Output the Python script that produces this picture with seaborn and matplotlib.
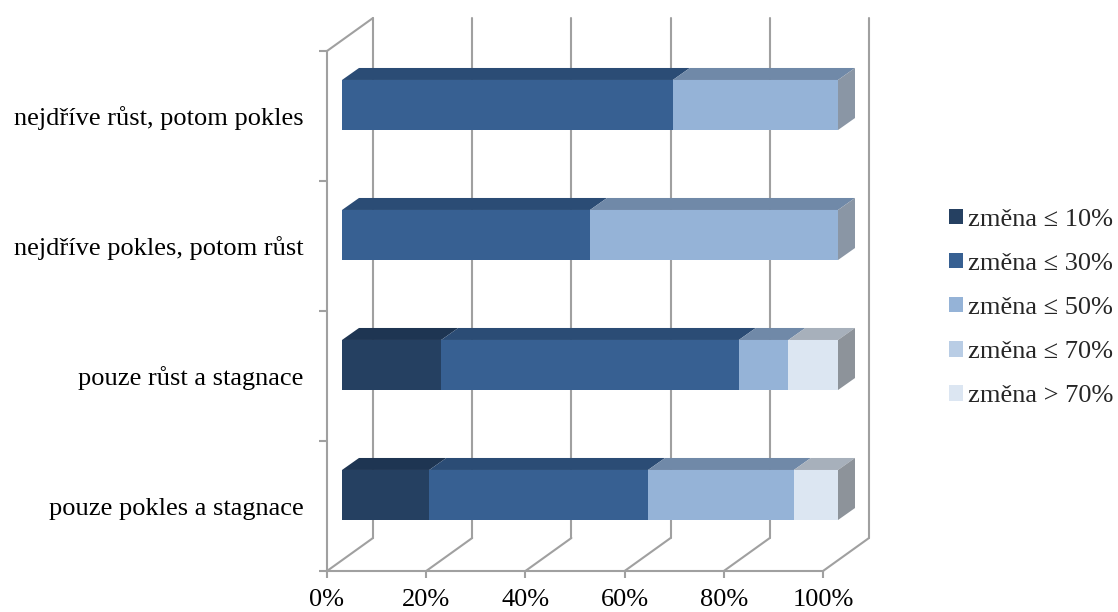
import numpy as np
import pandas as pd
import matplotlib
matplotlib.use("Agg")
import matplotlib.pyplot as plt
import matplotlib.transforms as mtransforms
from matplotlib.patches import Polygon, Patch
from matplotlib.lines import Line2D
import seaborn as sns

# ---- data -------------------------------------------------------------
categories = [
    "nejdříve růst, potom pokles",
    "nejdříve pokles, potom růst",
    "pouze růst a stagnace",
    "pouze pokles a stagnace",
]
series = ["změna ≤ 10%", "změna ≤ 30%", "změna ≤ 50%", "změna ≤ 70%", "změna > 70%"]
share_le10 = [0.0, 0.0, 20.0, 17.6]
share_le30 = [66.7, 50.0, 60.0, 44.1]
share_le50 = [33.3, 50.0, 10.0, 29.4]
share_le70 = [0.0, 0.0, 0.0, 0.0]
share_gt70 = [0.0, 0.0, 10.0, 8.9]
x_ticks = [0, 20, 40, 60, 80, 100]
x_tick_labels = ["0%", "20%", "40%", "60%", "80%", "100%"]

# ---- styling ----------------------------------------------------------
front_colors = ["#254061", "#376092", "#95B3D7", "#B9CDE5", "#DCE6F2"]
top_colors = ["#1E3552", "#2B4C75", "#7089A8", "#8E9CAE", "#A7B0BB"]
side_colors = ["#1A2C44", "#25405F", "#8A96A5", "#8F98A3", "#8D939A"]
grid_color = "#A0A0A0"
grid_lw = 1.5
font_size = 19

W, H = 1118, 612
sns.set_theme(style="white")
plt.rcParams["font.family"] = ["Liberation Serif", "DejaVu Serif"]

fig = plt.figure(figsize=(W / 100, H / 100), dpi=100)
# front plane of the 3-D box
left_px, right_px, top_px, bottom_px = 327, 823, 51, 571
ax = fig.add_axes([left_px / W, 1 - bottom_px / H,
                   (right_px - left_px) / W, (bottom_px - top_px) / H])

n_cat = len(categories)
px_per_x = (right_px - left_px) / 100.0
px_per_cat = (bottom_px - top_px) / n_cat


def shift(x, y, dx_px, dy_px):
    """Move a data point by a screen offset (px right, px up)."""
    return x + dx_px / px_per_x, y - dy_px / px_per_cat


back = (46, 33)        # depth of the whole box
bar_front = (15, 11)   # depth at which the bar front faces sit
bar_depth = (17, 12)   # thickness of each bar
bar_width = 0.385

# ---- stacked bars through seaborn (cumulative totals, drawn back to front)
values = np.array([share_le10, share_le30, share_le50, share_le70, share_gt70])
cum = np.cumsum(values, axis=0)
starts = cum - values

offset = mtransforms.ScaledTranslation(bar_front[0] / 100, bar_front[1] / 100,
                                       fig.dpi_scale_trans)
for k in range(len(series) - 1, -1, -1):
    df = pd.DataFrame({"kategorie": categories, "podil": cum[k]})
    sns.barplot(data=df, x="podil", y="kategorie", orient="y", order=categories,
                color=front_colors[k], saturation=1, width=bar_width,
                linewidth=0, ax=ax, zorder=5)
for p in ax.patches:
    p.set_transform(ax.transData + offset)
    p.set_clip_on(False)

# ---- 3-D faces of the bars ------------------------------------------------
for i in range(n_cat):
    y_top = i - bar_width / 2
    for k in range(len(series)):
        if values[k, i] <= 0:
            continue
        x0, x1 = starts[k, i], cum[k, i]
        p0 = shift(x0, y_top, *bar_front)
        p1 = shift(x1, y_top, *bar_front)
        p2 = shift(*p1, *bar_depth)
        p3 = shift(*p0, *bar_depth)
        ax.add_patch(Polygon([p0, p1, p2, p3], closed=True, facecolor=top_colors[k],
                             edgecolor="none", zorder=4, clip_on=False))
    # right side face of the last visible segment
    last = max(k for k in range(len(series)) if values[k, i] > 0)
    xe = cum[last, i]
    q0 = shift(xe, y_top, *bar_front)
    q1 = shift(xe, y_top + bar_width, *bar_front)
    q2 = shift(*q1, *bar_depth)
    q3 = shift(*q0, *bar_depth)
    ax.add_patch(Polygon([q0, q1, q2, q3], closed=True, facecolor=side_colors[last],
                         edgecolor="none", zorder=4, clip_on=False))

# ---- walls, floor and gridlines ----------------------------------------
y_floor, y_roof = n_cat - 0.5, -0.5
for xv in x_ticks:
    bx, by_floor = shift(xv, y_floor, *back)
    _, by_roof = shift(xv, y_roof, *back)
    ax.add_line(Line2D([bx, bx], [by_floor, by_roof], color=grid_color, lw=grid_lw,
                       zorder=1, clip_on=False))
    ax.add_line(Line2D([xv, bx], [y_floor, by_floor], color=grid_color, lw=grid_lw,
                       zorder=1, clip_on=False))
tx, ty = shift(0, y_roof, *back)
ax.add_line(Line2D([0, tx], [y_roof, ty], color=grid_color, lw=grid_lw,
                   zorder=1, clip_on=False))

ax.set_xlim(0, 100)
ax.set_ylim(y_floor, y_roof)
ax.set_xlabel("")
ax.set_ylabel("")
for s in ["top", "right"]:
    ax.spines[s].set_visible(False)
for s in ["left", "bottom"]:
    ax.spines[s].set_color(grid_color)
    ax.spines[s].set_linewidth(grid_lw)
ax.patch.set_alpha(0)

ax.set_xticks(x_ticks)
ax.set_xticklabels(x_tick_labels, fontsize=font_size)
ax.tick_params(axis="x", which="major", direction="out", length=5, width=grid_lw,
               color=grid_color, labelcolor="black", pad=8, bottom=True)
ax.set_yticks(range(n_cat))
ax.set_yticklabels(categories, fontsize=font_size)
ax.set_yticks(np.arange(-0.5, n_cat, 1.0), minor=True)
ax.tick_params(axis="y", which="major", length=0, pad=17, labelcolor="black")
ax.tick_params(axis="y", which="minor", direction="out", length=6, width=grid_lw,
               color=grid_color, left=True)

# ---- legend --------------------------------------------------------------
handles = [Patch(facecolor=c, edgecolor="none") for c in front_colors]
fig.legend(handles, series, loc="center left", bbox_to_anchor=(949 / W, 1 - 308 / H),
           frameon=False, fontsize=font_size, handlelength=0.53, handleheight=0.53,
           handletextpad=0.2, labelspacing=0.83, borderpad=0, borderaxespad=0)

fig.savefig("out.png", dpi=100)
